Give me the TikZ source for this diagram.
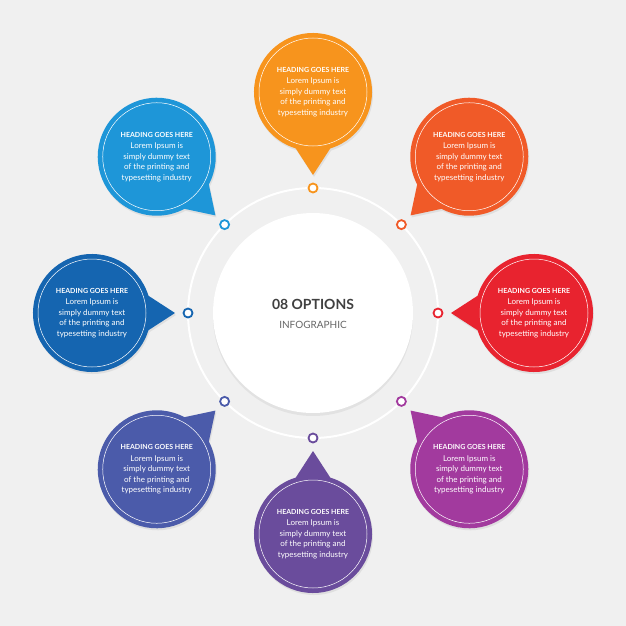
\documentclass[tikz,border=0pt]{standalone}
\usepackage{fontspec}
\setmainfont{Lato}
\usetikzlibrary{shadows}
\definecolor{bg}{HTML}{F0F0F0}
\definecolor{cA}{HTML}{F7941D}
\definecolor{cB}{HTML}{F05A28}
\definecolor{cC}{HTML}{E8232F}
\definecolor{cD}{HTML}{A23A9E}
\definecolor{cE}{HTML}{6A4C9C}
\definecolor{cF}{HTML}{4B5BAA}
\definecolor{cG}{HTML}{1565B0}
\definecolor{cH}{HTML}{1E96D8}
\begin{document}
\begin{tikzpicture}[x=1pt,y=-1pt]
  \tikzstyle{bubble}=[drop shadow={opacity=0.15,shadow xshift=1pt,shadow yshift=-2pt}]
  \tikzstyle{dot}=[circle,fill=white,line width=1.8pt,minimum size=9pt,inner sep=0pt]
  \tikzstyle{bodytext}=[text=white,align=center,font=\fontsize{8}{10.5}\selectfont]
  \fill[bg] (0,0) rectangle (626,626);
  \useasboundingbox (0,0) rectangle (626,626);
  \coordinate (c) at (313,313);
  \draw[white,line width=2pt] (c) circle (125);
  \node[circle,fill=white,minimum size=200pt,drop shadow={opacity=0.12,shadow xshift=0pt,shadow yshift=-3pt}] (hub) at (c) {};
  \node[font=\bfseries\fontsize{14}{16}\selectfont,text=black!75] (title) at (313,304) {08 OPTIONS};
  \node[font=\fontsize{10}{12}\selectfont,text=black!60] (sub) at (313,325) {INFOGRAPHIC};
  \foreach \ang/\col [count=\i] in {-90/cA,-45/cB,0/cC,45/cD,90/cE,135/cF,180/cG,225/cH}{
    \begin{scope}[shift={(c)}]
      \node[dot,draw=\col] (d\i) at (\ang:125) {};
      \begin{scope}[shift={(\ang:221)}]
        \pgfmathsetmacro\aa{\ang+197}
        \pgfmathsetmacro\ab{\ang+180}
        \pgfmathsetmacro\ac{\ang+163+360}
        \fill[\col,bubble] (\aa:59) -- (\ab:83) -- (\ac:59) arc (\ac:\aa:59) -- cycle;
        \draw[white,line width=0.5pt] (0,0) circle (54);
      \end{scope}
      \node[bodytext] (b\i) at (\ang:221) {{\bfseries\fontsize{7}{9}\selectfont HEADING GOES HERE}\\[1pt]
        Lorem Ipsum is\\simply dummy text\\of the printing and\\typesetting industry};
    \end{scope}
  }
\end{tikzpicture}
\end{document}
